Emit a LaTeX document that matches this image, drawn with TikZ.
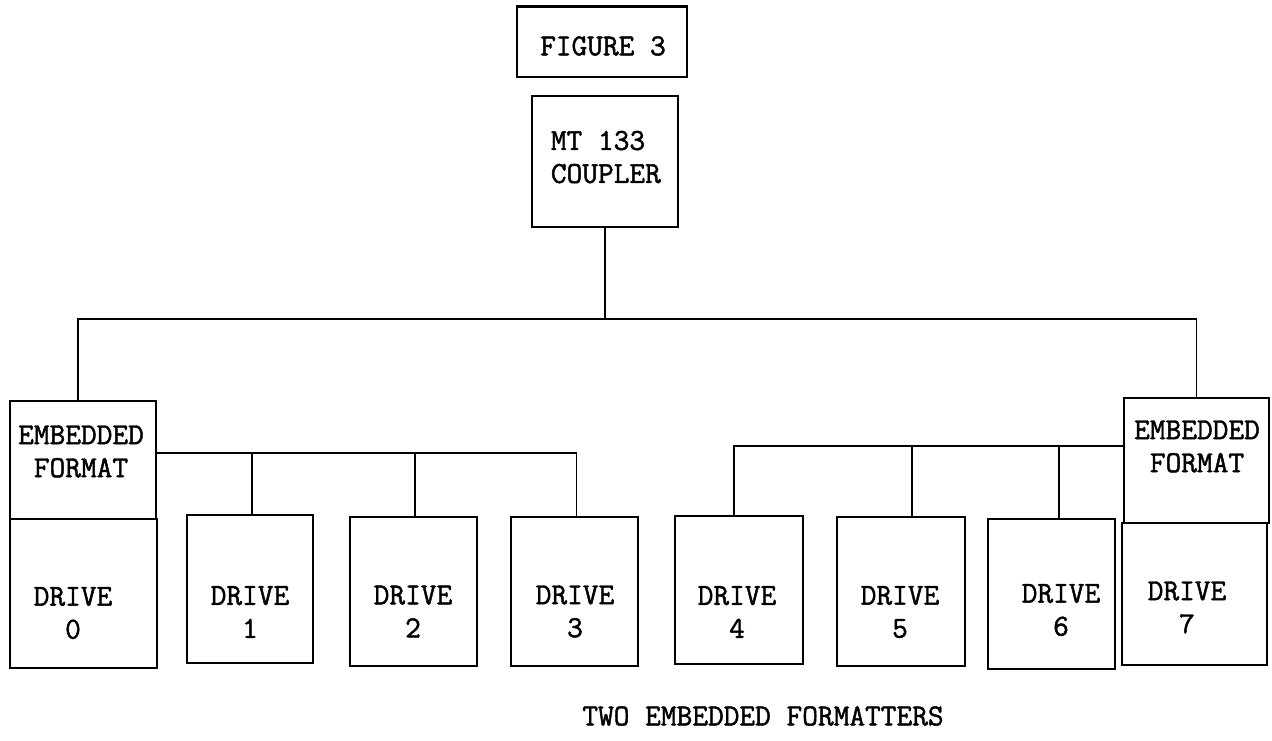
\documentclass[tikz,border=0pt]{standalone}
\usepackage{fontspec}
\newfontfamily\tw{Latin Modern Mono}[FakeBold=1.5]
\usetikzlibrary{fit}
\begin{document}
\begin{tikzpicture}[x=1pt,y=-1pt,line width=1.8pt,
  box/.style={draw,inner sep=0pt,line width=1.8pt},
  txt/.style={font=\tw\fontsize{30.5}{33}\selectfont,align=center,inner sep=0pt},
  wire/.style={draw,line width=1.6pt}]
\useasboundingbox (0,0) rectangle (1272,740);
% boxes
\node[box,fit={(517,7) (687,77)}] (fig) {};
\node[box,fit={(532,96) (678,227)}] (cpl) {};
\node[box,fit={(10,401) (156,519)}] (fmtL) {};
\node[box,fit={(10,519) (157,668)}] (d0) {};
\node[box,fit={(187,515) (313,663)}] (d1) {};
\node[box,fit={(350,517) (477,666)}] (d2) {};
\node[box,fit={(511,517) (638,666)}] (d3) {};
\node[box,fit={(675,516) (803,664)}] (d4) {};
\node[box,fit={(837,517) (965,666)}] (d5) {};
\node[box,fit={(988,519) (1115,669)}] (d6) {};
\node[box,fit={(1124,398) (1269,523)}] (fmtR) {};
\node[box,fit={(1122,523) (1267,665)}] (d7) {};
\draw[line width=3pt] (fig.north west) -- (fig.north east);
% texts
\node[txt] (tfig) at (603,46) {FIGURE 3};
\node[txt,align=left,anchor=north west] (tcpl) at (550,130) {MT 133\\COUPLER};
\node[txt] (tfL) at (81,451.5) {EMBEDDED\\FORMAT};
\node[txt] (tfR) at (1197,446.5) {EMBEDDED\\FORMAT};
\node[txt] (t0) at (73,613) {DRIVE\\0};
\node[txt] (t1) at (250,612) {DRIVE\\1};
\node[txt] (t2) at (413,611.5) {DRIVE\\2};
\node[txt] (t3) at (575,611.5) {DRIVE\\3};
\node[txt] (t4) at (737,612) {DRIVE\\4};
\node[txt] (t5) at (900,612) {DRIVE\\5};
\node[txt] (t6) at (1061,610) {DRIVE\\6};
\node[txt] (t7) at (1187,607.5) {DRIVE\\7};
\node[txt] (cap) at (763,716) {TWO EMBEDDED FORMATTERS};
% main bus
\coordinate (busC) at (605,319);
\draw[wire] (cpl.south) -- (busC);
\draw[wire] ([xshift=-5pt]fmtL.north) |- (busC) -| (fmtR.north);
% left bus
\coordinate (bl0) at (156,453);
\draw[wire] (bl0) -| ([xshift=2pt]d3.north);
\draw[wire] ([xshift=2pt]d1.north |- bl0) -- ([xshift=2pt]d1.north);
\draw[wire] ([xshift=1.5pt]d2.north |- bl0) -- ([xshift=1.5pt]d2.north);
% right bus
\coordinate (br0) at (1124,446);
\draw[wire] (br0) -| ([xshift=-5pt]d4.north);
\draw[wire] ([xshift=11pt]d5.north |- br0) -- ([xshift=11pt]d5.north);
\draw[wire] ([xshift=7.5pt]d6.north |- br0) -- ([xshift=7.5pt]d6.north);
\end{tikzpicture}
\end{document}
